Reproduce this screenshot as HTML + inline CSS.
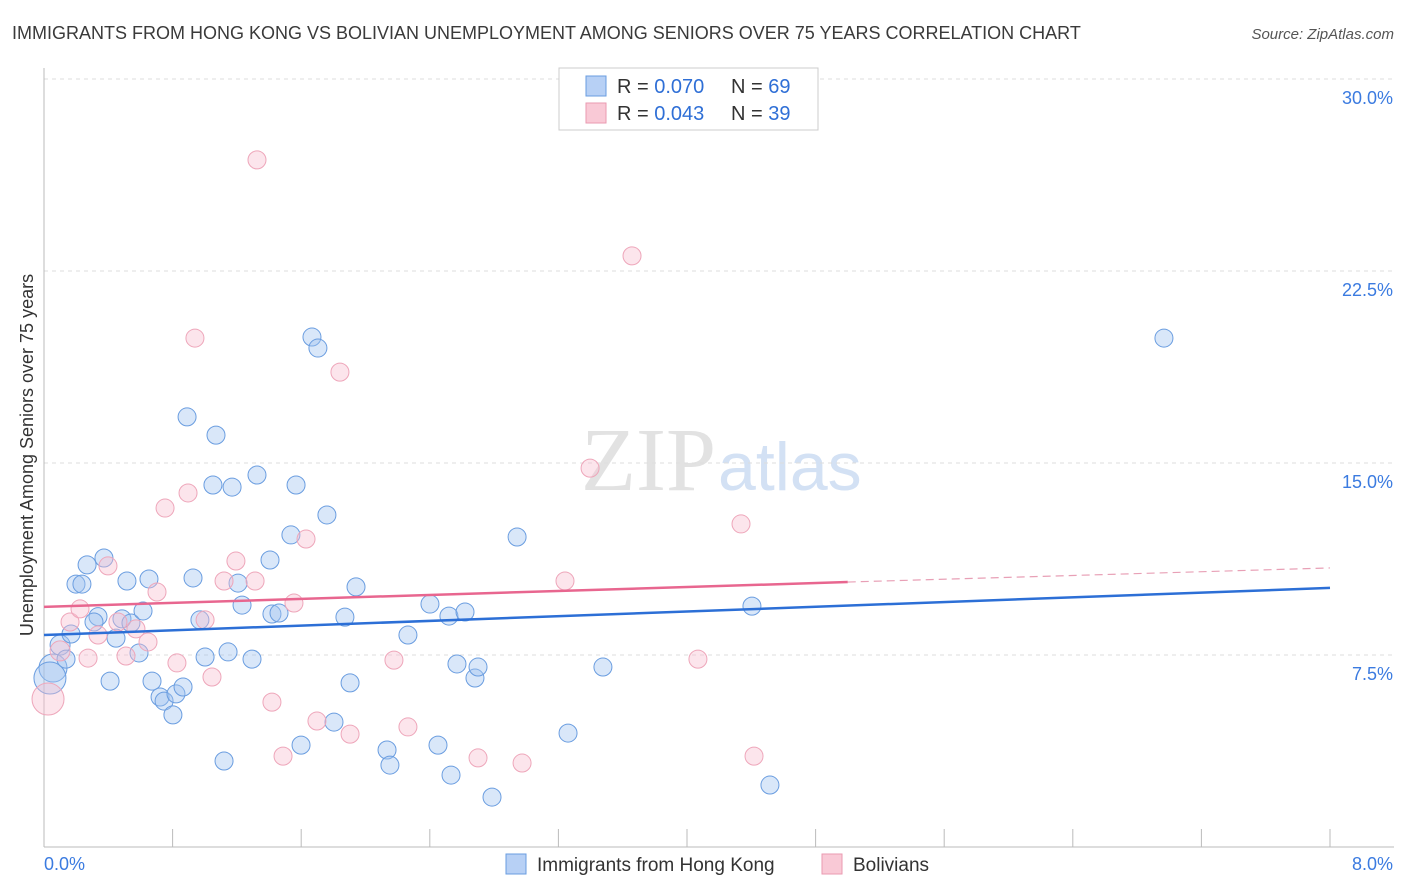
<!DOCTYPE html>
<html><head><meta charset="utf-8"><style>
body{margin:0;background:#fff;font-family:"Liberation Sans",sans-serif;}
svg{display:block}
</style></head><body>
<svg id="c" width="1406" height="892" xmlns="http://www.w3.org/2000/svg">
<text x="12" y="39" font-size="18" fill="#3a3a3a">IMMIGRANTS FROM HONG KONG VS BOLIVIAN UNEMPLOYMENT AMONG SENIORS OVER 75 YEARS CORRELATION CHART</text>
<text x="1394" y="39" font-size="15" fill="#555" font-style="italic" text-anchor="end">Source: ZipAtlas.com</text>
<text x="716" y="490" font-size="90" fill="#e2e2e2" text-anchor="end" font-family="Liberation Serif">ZIP</text>
<text x="718" y="490" font-size="68" fill="#d3e1f4">atlas</text>
<g id="grid"></g><g id="axes"></g><g id="pts"></g><g id="lines"></g>
<text transform="translate(33,455) rotate(-90)" font-size="18" fill="#333" text-anchor="middle">Unemployment Among Seniors over 75 years</text>
<g>
<rect x="559" y="68" width="259" height="62" fill="#fff" stroke="#ccc"/>
<rect x="586" y="76" width="20" height="20" fill="#b7d0f5" stroke="#6a9de0"/>
<rect x="586" y="103" width="20" height="20" fill="#f9c9d6" stroke="#ea9ab0"/>
<text x="617" y="93" font-size="20" fill="#333">R = <tspan fill="#2f6fd6">0.070</tspan></text>
<text x="731" y="93" font-size="20" fill="#333">N = <tspan fill="#2f6fd6">69</tspan></text>
<text x="617" y="120" font-size="20" fill="#333">R = <tspan fill="#2f6fd6">0.043</tspan></text>
<text x="731" y="120" font-size="20" fill="#333">N = <tspan fill="#2f6fd6">39</tspan></text>
</g>
<g>
<rect x="506" y="854" width="20" height="20" fill="#b7d0f5" stroke="#6a9de0"/>
<text x="537" y="871" font-size="19" fill="#333">Immigrants from Hong Kong</text>
<rect x="822" y="854" width="20" height="20" fill="#f9c9d6" stroke="#ea9ab0"/>
<text x="853" y="871" font-size="19" fill="#333">Bolivians</text>
</g>
</svg>
<script>
const yTicks=[7.5,15,22.5,30];
const yTickLabels=["7.5%","15.0%","22.5%","30.0%"];
const xTicks=[0,0.8,1.6,2.4,3.2,4,4.8,5.6,6.4,7.2,8];
const blueX=[0.056,0.037,0.100,0.137,0.168,0.199,0.236,0.268,0.336,0.311,0.373,0.411,0.448,0.485,0.516,0.541,0.591,0.616,0.653,0.672,0.722,0.747,0.802,0.821,0.865,0.890,0.927,0.970,1.002,1.051,1.070,1.145,1.170,1.120,1.207,1.232,1.294,1.325,1.406,1.418,1.462,1.536,1.568,1.599,1.667,1.704,1.760,1.804,1.872,1.904,1.941,2.134,2.152,2.264,2.401,2.451,2.532,2.519,2.569,2.619,2.681,2.700,2.787,2.943,3.260,3.477,4.404,4.516,6.967];
const blueY=[6.99,6.60,7.89,7.34,8.32,10.27,10.27,11.02,9.00,8.79,11.29,6.48,8.16,8.91,10.39,8.75,7.58,9.22,10.47,6.48,5.86,5.70,5.16,5.98,6.25,16.80,10.51,8.87,7.42,14.14,16.09,7.62,14.06,3.36,10.31,9.45,7.34,14.53,11.21,9.10,9.14,12.19,14.14,3.98,19.92,19.49,12.97,4.88,8.98,6.41,10.16,3.79,3.20,8.28,9.49,3.98,2.81,9.02,7.15,9.18,6.60,7.03,1.95,12.11,4.45,7.03,9.41,2.42,19.88];
const blueR=[14,16,10,9,9,9,9,9,9,9,9,9,9,9,9,9,9,9,9,9,9,9,9,9,9,9,9,9,9,9,9,9,9,9,9,9,9,9,9,9,9,9,9,9,9,9,9,9,9,9,9,9,9,9,9,9,9,9,9,9,9,9,9,9,9,9,9,9,9];
const pinkX=[0.025,0.100,0.162,0.224,0.274,0.336,0.398,0.460,0.510,0.572,0.647,0.703,0.753,0.827,0.896,0.939,1.002,1.045,1.120,1.194,1.313,1.325,1.418,1.487,1.555,1.630,1.698,1.841,1.904,2.177,2.264,2.700,2.974,3.241,3.397,3.658,4.068,4.336,4.417];
const pinkY=[5.78,7.66,8.79,9.30,7.38,8.28,10.98,8.79,7.46,8.52,8.01,9.96,13.24,7.19,13.83,19.88,8.87,6.64,10.39,11.17,10.39,26.84,5.66,3.55,9.53,12.03,4.92,18.55,4.41,7.30,4.69,3.48,3.28,10.39,14.80,23.09,7.34,12.62,3.55];
const pinkR=[16,10,9,9,9,9,9,9,9,9,9,9,9,9,9,9,9,9,9,9,9,9,9,9,9,9,9,9,9,9,9,9,9,9,9,9,9,9,9];
const blueTrend=[[0,8.28],[8,10.12]];
const pinkTrend=[[0,9.38],[5,10.35],[8,10.90]];
const NS="http://www.w3.org/2000/svg";
const X=v=>44+v*160.75, Y=v=>847-v*25.6;
function mk(tag,attrs,parent){const e=document.createElementNS(NS,tag);for(const k in attrs)e.setAttribute(k,attrs[k]);parent.appendChild(e);return e;}
const grid=document.getElementById('grid'),axes=document.getElementById('axes'),pts=document.getElementById('pts'),lines=document.getElementById('lines');
yTicks.forEach((t,i)=>{
 const l=mk('line',{x1:44,x2:1394,y1:Y(t),y2:Y(t),stroke:'#ddd','stroke-dasharray':'4 4'},grid);
 
 
 const tx=mk('text',{x:1393,y:Y(t)+25,'font-size':18,fill:'#3b7be0','text-anchor':'end'},axes);
 tx.textContent=yTickLabels[i];
 
 
});
const ya=mk('line',{x1:44,x2:44,y1:68,y2:847,stroke:'#bbb'},axes);


const xa=mk('line',{x1:44,x2:1394,y1:847,y2:847,stroke:'#bbb'},axes);


xTicks.forEach(t=>{
 const l=mk('line',{x1:X(t),x2:X(t),y1:829,y2:847,stroke:'#bbb'},axes);
 
 
});
const xl0=mk('text',{x:44,y:870,'font-size':18,fill:'#3b7be0'},axes);xl0.textContent='0.0%';


const xl1=mk('text',{x:1393,y:870,'font-size':18,fill:'#3b7be0','text-anchor':'end'},axes);xl1.textContent='8.0%';


blueX.forEach((v,i)=>{
 const c=mk('circle',{cx:X(v),cy:Y(blueY[i]),r:blueR[i],fill:'rgba(160,195,240,0.4)',stroke:'#6a9de0','stroke-width':1},pts);
 
 
});
pinkX.forEach((v,i)=>{
 const c=mk('circle',{cx:X(v),cy:Y(pinkY[i]),r:pinkR[i],fill:'rgba(248,190,208,0.4)',stroke:'#eea6ba','stroke-width':1},pts);
 
 
});
const bl=mk('line',{x1:X(blueTrend[0][0]),y1:Y(blueTrend[0][1]),x2:X(blueTrend[1][0]),y2:Y(blueTrend[1][1]),stroke:'#2c6fd6','stroke-width':2.5},lines);


const pl=mk('line',{x1:X(pinkTrend[0][0]),y1:Y(pinkTrend[0][1]),x2:X(pinkTrend[1][0]),y2:Y(pinkTrend[1][1]),stroke:'#e8668f','stroke-width':2.5},lines);


const pd=mk('line',{x1:X(pinkTrend[1][0]),y1:Y(pinkTrend[1][1]),x2:X(pinkTrend[2][0]),y2:Y(pinkTrend[2][1]),stroke:'#e8a0b6','stroke-width':1.2,'stroke-dasharray':'8 5'},lines);


</script>
</body></html>
